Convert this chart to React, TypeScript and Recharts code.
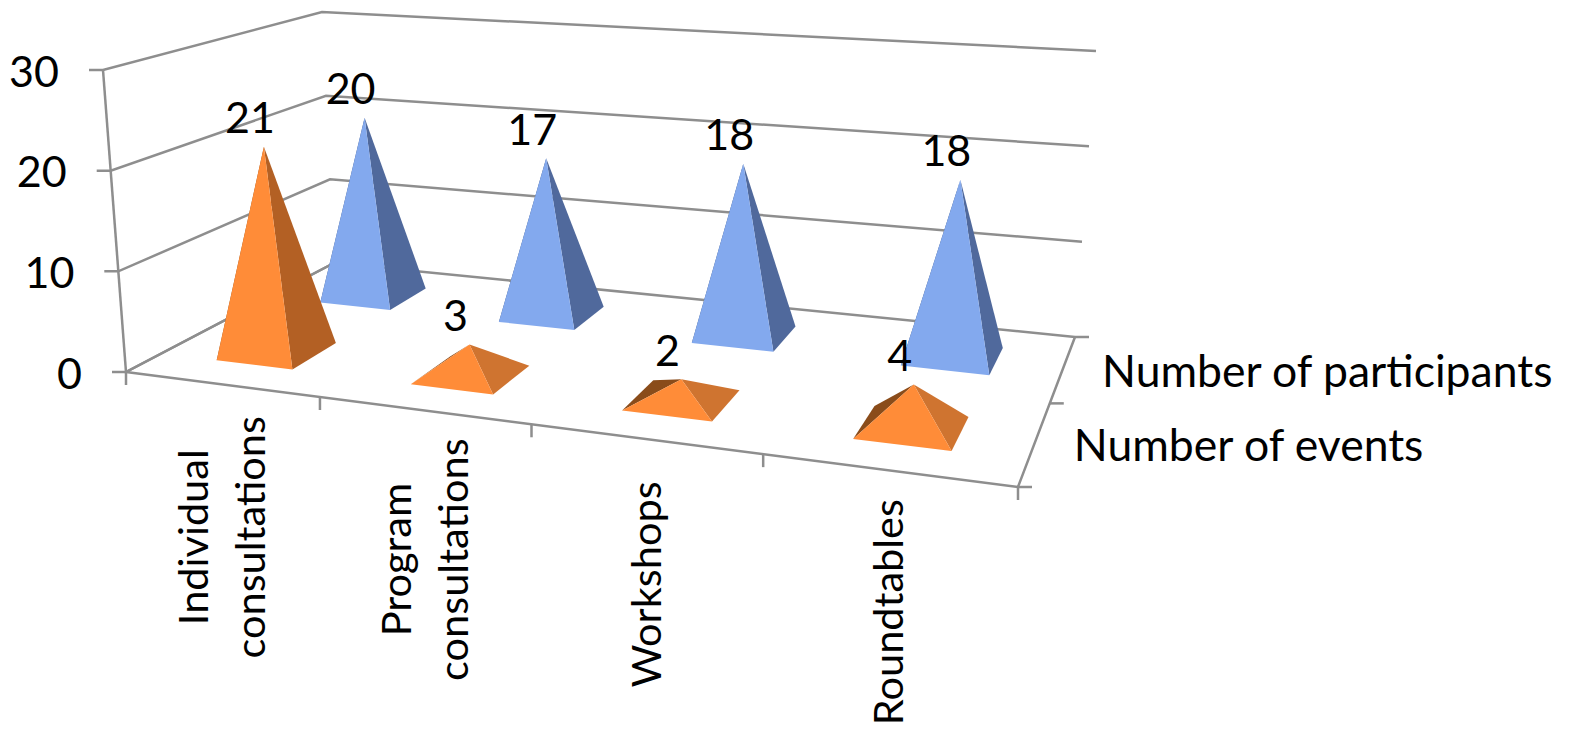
import { BarChart, Bar, XAxis, YAxis, LabelList, CartesianGrid, Customized } from 'recharts'

const categories = ['Individual consultations', 'Program consultations', 'Workshops', 'Roundtables']
const participants = [20, 17, 18, 18]
const events = [21, 3, 2, 4]
const depthLabels = ['Number of events', 'Number of participants']
const valueTicks = [0, 10, 20, 30]

const data = categories.map((name, i) => ({ name, participants: participants[i], events: events[i] }))

const WIDTH = 1570
const HEIGHT = 731
const FONT = 'Lato, "Open Sans", sans-serif'
const FONT_SIZE = 43
const LINE = '#8e8e8e'
const LINE_WIDTH = 2.5

// flat plot rectangle the library scales work in, before projection
const PLOT = { left: 100, top: 100, width: 1000, height: 600 }
const BAR_SIZE = 100
const BAR_DEPTH = 0.105

type Pt = [number, number]

// maps the unit square onto a quad: front-left, front-right, rear-right, rear-left
function squareToQuad([p0, p1, p2, p3]: Pt[]) {
  const dx1 = p1[0] - p2[0]
  const dx2 = p3[0] - p2[0]
  const sx = p0[0] - p1[0] + p2[0] - p3[0]
  const dy1 = p1[1] - p2[1]
  const dy2 = p3[1] - p2[1]
  const sy = p0[1] - p1[1] + p2[1] - p3[1]
  const den = dx1 * dy2 - dx2 * dy1
  const g = (sx * dy2 - dx2 * sy) / den
  const h = (dx1 * sy - sx * dy1) / den
  const a = p1[0] - p0[0] + g * p1[0]
  const b = p3[0] - p0[0] + h * p3[0]
  const d = p1[1] - p0[1] + g * p1[1]
  const e = p3[1] - p0[1] + h * p3[1]
  return (u: number, v: number): Pt => {
    const k = g * u + h * v + 1
    return [(a * u + b * v + p0[0]) / k, (d * u + e * v + p0[1]) / k]
  }
}

const floorQuad = squareToQuad([[126, 372], [1018, 487], [1075, 337], [334, 263]])
const ceilingQuad = squareToQuad([[103, 70], [1050, 137], [1096, 51], [322, 12]])

// u along the categories, v front to rear, w floor to top of the value axis
function project(u: number, v: number, w: number): Pt {
  const f = floorQuad(u, v)
  const c = ceilingQuad(u, v)
  return [f[0] + (c[0] - f[0]) * w, f[1] + (c[1] - f[1]) * w]
}

const toU = (x: number) => (x - PLOT.left) / PLOT.width
const toW = (y: number) => (PLOT.top + PLOT.height - y) / PLOT.height
const poly = (pts: Pt[]) => pts.map((p) => p.map((n) => n.toFixed(1)).join(',')).join(' ')

type Shades = { front: string; right: string; left: string }
const orangeTall: Shades = { front: '#ff8c38', right: '#b36024', left: '#8a4c1a' }
const orangeLow: Shades = { front: '#ff8c38', right: '#cf7430', left: '#8a4c1a' }
const blue: Shades = { front: '#83a9ee', right: '#50699c', left: '#3f5580' }

const Pyramid = ({ x, y, width, v, shades }: any) => {
  const uc = toU(x + width / 2)
  const du = width / PLOT.width / 2
  const apex = project(uc, v, toW(y))
  const fl = project(uc - du, v - BAR_DEPTH, 0)
  const fr = project(uc + du, v - BAR_DEPTH, 0)
  const rr = project(uc + du, v + BAR_DEPTH, 0)
  const rl = project(uc - du, v + BAR_DEPTH, 0)
  return (
    <g>
      <polygon points={poly([rl, fl, apex])} fill={shades.left} />
      <polygon points={poly([fr, rr, apex])} fill={shades.right} />
      <polygon points={poly([fl, fr, apex])} fill={shades.front} />
    </g>
  )
}

const ValueLabel = ({ x, y, width, value, v }: any) => {
  const [ax, ay] = project(toU(x + width / 2), v, toW(y))
  return (
    <text x={ax - 14} y={ay - 30} textAnchor="middle" dominantBaseline="central" fontSize={FONT_SIZE} fontFamily={FONT} fill="#000">
      {value}
    </text>
  )
}

// one grid line per value, running along the left and rear walls
const WallLine = ({ y1 }: any) => {
  const w = toW(y1)
  const front = project(0, 0, w)
  return (
    <polyline
      points={poly([[front[0] - 14, front[1]], front, project(0, 1, w), project(1, 1, w)])}
      fill="none"
      stroke={LINE}
      strokeWidth={LINE_WIDTH}
    />
  )
}

const ValueTick = ({ y, payload }: any) => {
  const front = project(0, 0, toW(y))
  return (
    <text x={front[0] - 44} y={front[1]} textAnchor="end" dominantBaseline="central" fontSize={FONT_SIZE} fontFamily={FONT} fill="#000">
      {payload.value}
    </text>
  )
}

const CategoryTick = ({ x, payload, index }: any) => {
  const u = toU(x)
  const band = 1 / categories.length
  const edges = index === categories.length - 1 ? [u - band / 2, u + band / 2] : [u - band / 2]
  const [cx, cy] = project(u, 0, 0)
  const lines = String(payload.value).split(' ')
  const pitch = 57
  const drop = 153 - index * 3.7
  return (
    <g>
      {edges.map((e) => {
        const p = project(e, 0, 0)
        return <line key={e} x1={p[0]} y1={p[1]} x2={p[0]} y2={p[1] + 13} stroke={LINE} strokeWidth={LINE_WIDTH} />
      })}
      {lines.map((line, i) => (
        <text
          key={line}
          transform={`translate(${cx + (i - (lines.length - 1) / 2) * pitch}, ${cy + drop}) rotate(-90)`}
          textAnchor="middle"
          dominantBaseline="central"
          fontSize={41.5}
          fontFamily={FONT}
          fill="#000"
        >
          {line}
        </text>
      ))}
    </g>
  )
}

// floor outline, front value axis and the depth axis with its series names
const FloorFrame = () => {
  const fl = project(0, 0, 0)
  const fr = project(1, 0, 0)
  const rr = project(1, 1, 0)
  const rl = project(0, 1, 0)
  const mid = project(1, 0.5, 0)
  const top = project(0, 0, 1)
  return (
    <g>
      <polyline points={poly([rl, fl, fr, rr])} fill="none" stroke={LINE} strokeWidth={LINE_WIDTH} />
      <line x1={fl[0]} y1={fl[1]} x2={top[0]} y2={top[1]} stroke={LINE} strokeWidth={LINE_WIDTH} />
      {[fr, mid, rr].map((p, i) => (
        <line key={i} x1={p[0]} y1={p[1]} x2={p[0] + 14} y2={p[1]} stroke={LINE} strokeWidth={LINE_WIDTH} />
      ))}
      {depthLabels.map((label, i) => {
        const p = project(1, 0.25 + i * 0.5, 0)
        return (
          <text key={label} x={p[0] + 39} y={p[1] + 1} dominantBaseline="central" fontSize={44.5} fontFamily={FONT} fill="#000">
            {label}
          </text>
        )
      })}
    </g>
  )
}

export default function App() {
  return (
    <div style={{ position: 'absolute', left: 0, top: 0, width: WIDTH, height: HEIGHT, background: '#fff' }}>
      <BarChart
        width={WIDTH}
        height={HEIGHT}
        data={data}
        barSize={BAR_SIZE}
        barGap={-BAR_SIZE}
        margin={{ top: PLOT.top, left: 0, right: WIDTH - PLOT.left - PLOT.width, bottom: 0 }}
      >
        <CartesianGrid vertical={false} horizontalValues={valueTicks} horizontal={(p: any) => <WallLine key={p.y1} {...p} />} />
        <Customized component={FloorFrame} />
        <XAxis dataKey="name" height={HEIGHT - PLOT.top - PLOT.height} axisLine={false} tickLine={false} interval={0} tick={<CategoryTick />} />
        <YAxis width={PLOT.left} domain={[0, 30]} ticks={valueTicks} axisLine={false} tickLine={false} tick={<ValueTick />} />
        <Bar dataKey="participants" isAnimationActive={false} shape={(p: any) => <Pyramid {...p} v={0.75} shades={blue} />}>
          <LabelList dataKey="participants" content={(p: any) => <ValueLabel {...p} v={0.75} />} />
        </Bar>
        <Bar
          dataKey="events"
          isAnimationActive={false}
          shape={(p: any) => <Pyramid {...p} v={0.25} shades={p.value >= 10 ? orangeTall : orangeLow} />}
        >
          <LabelList dataKey="events" content={(p: any) => <ValueLabel {...p} v={0.25} />} />
        </Bar>
      </BarChart>
    </div>
  )
}
